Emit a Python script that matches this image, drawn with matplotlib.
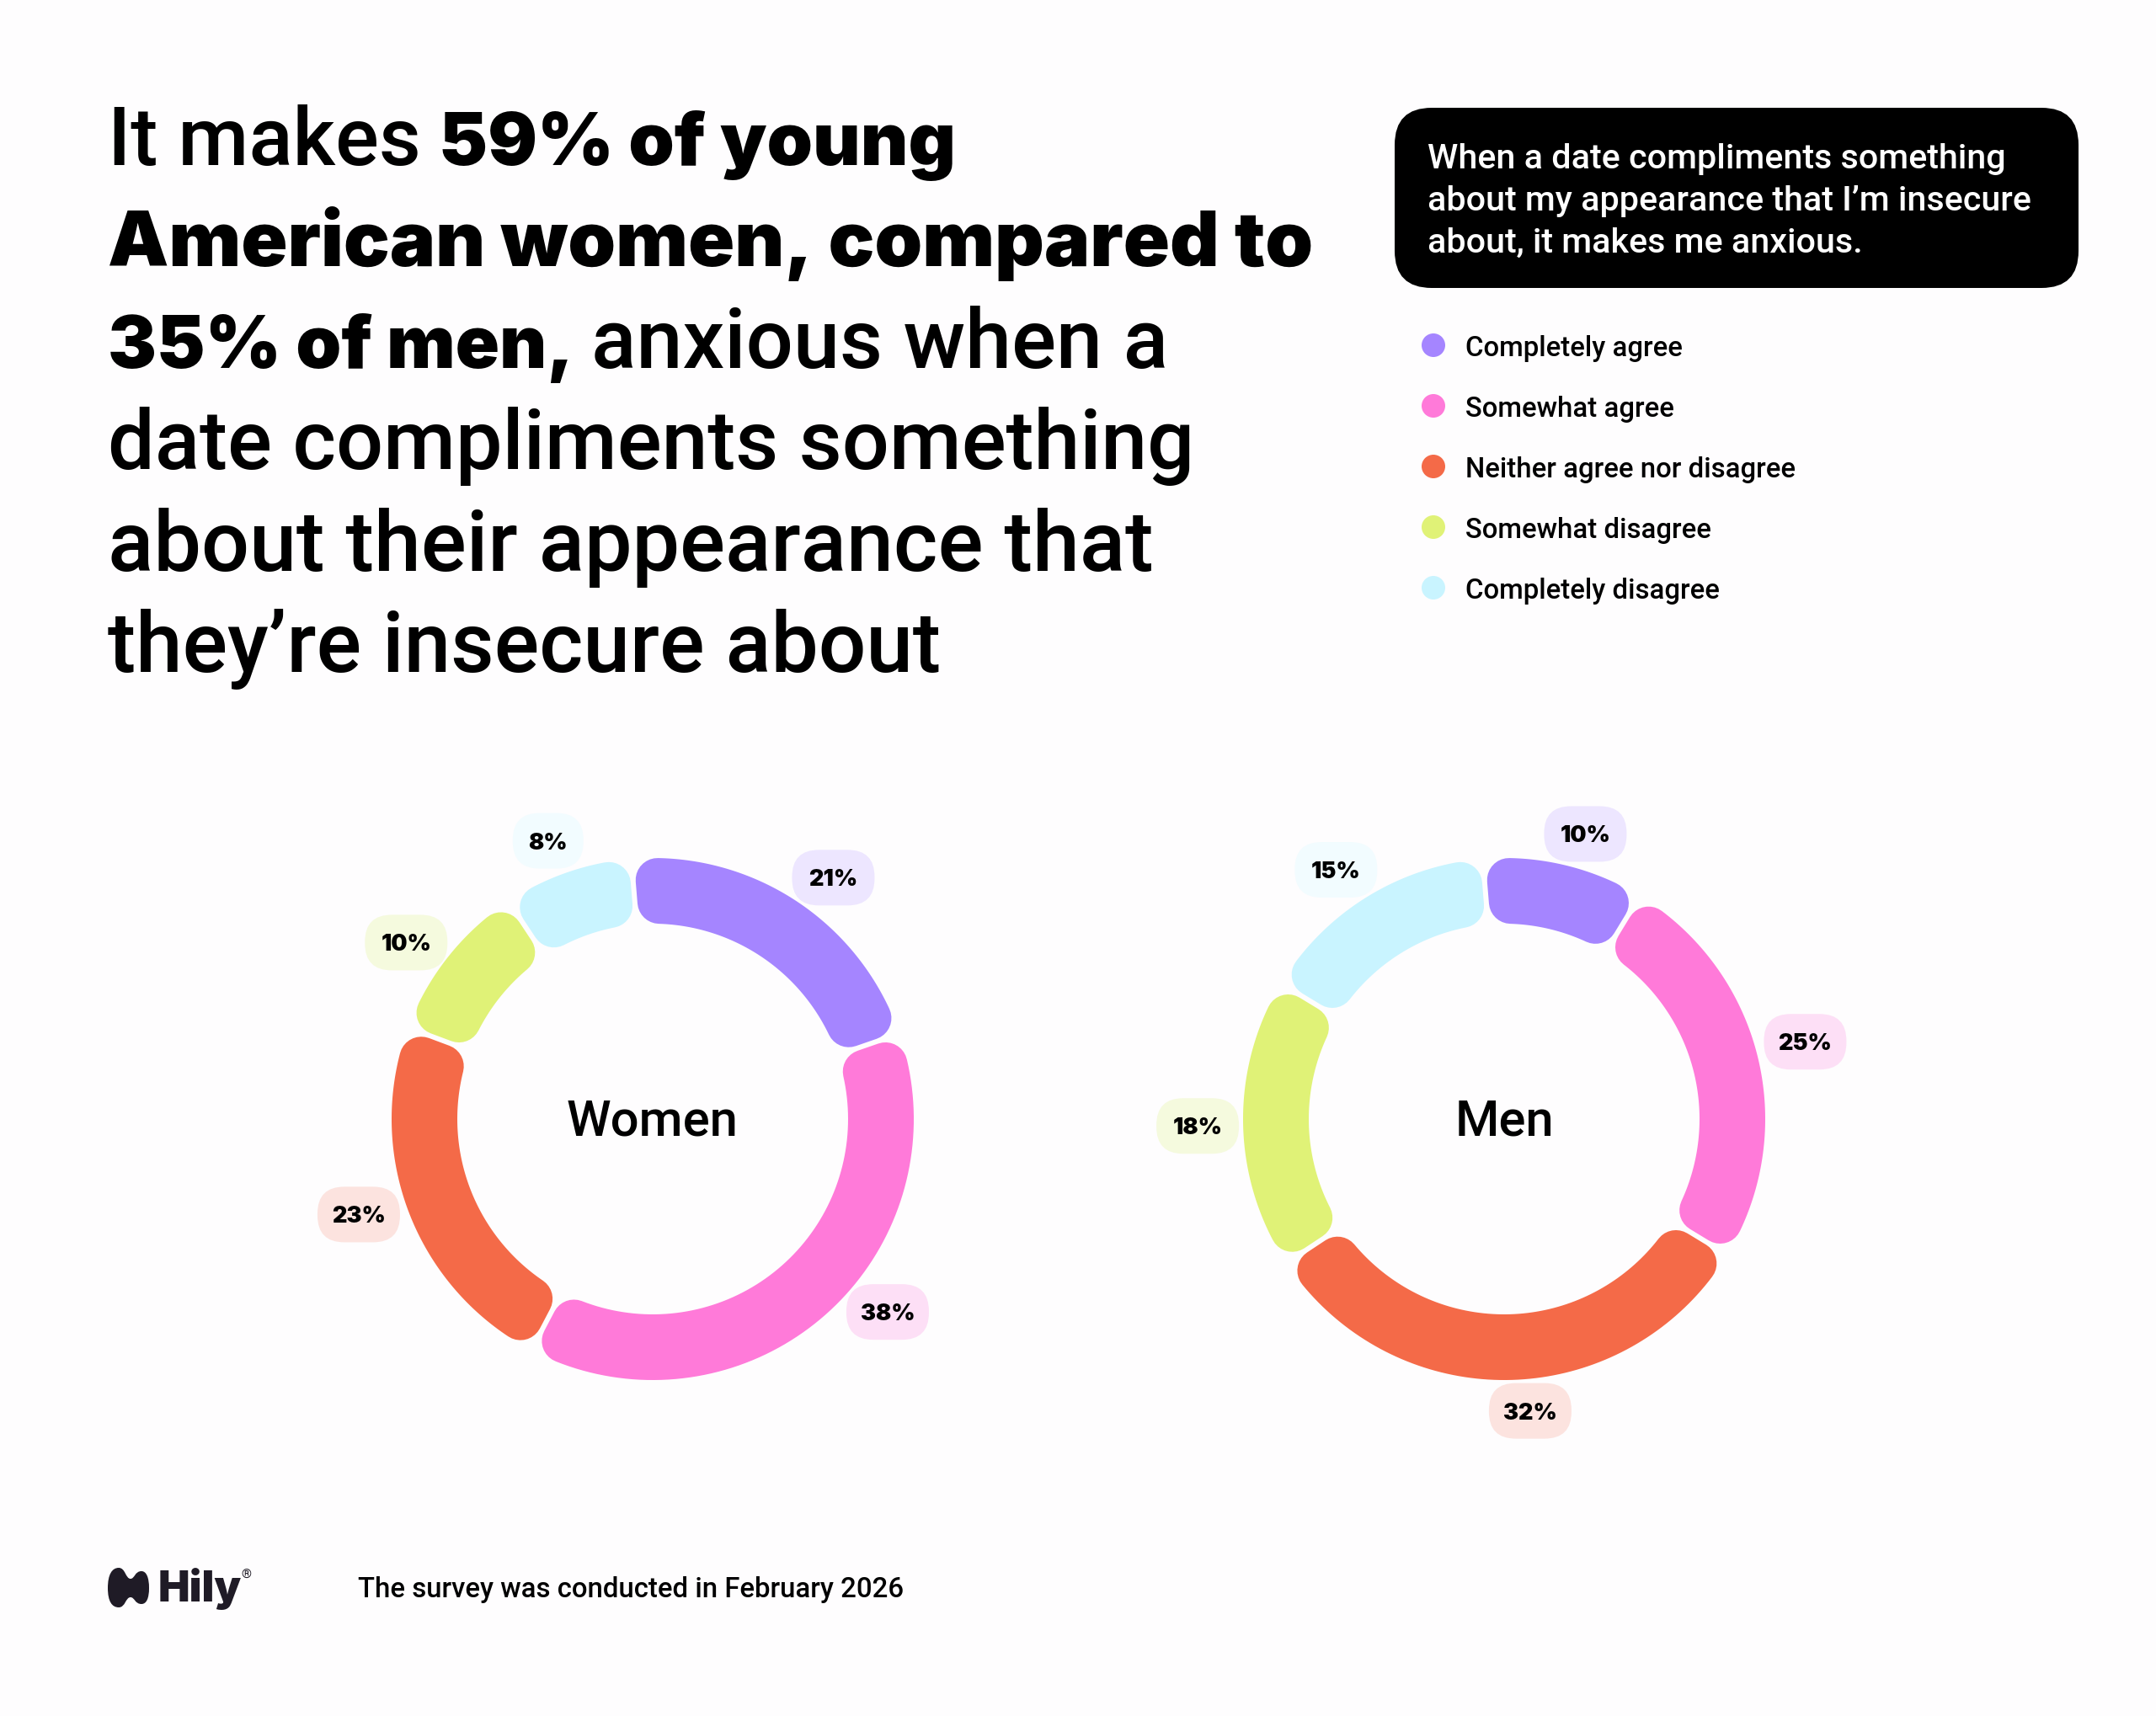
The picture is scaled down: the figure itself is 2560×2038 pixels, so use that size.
import matplotlib
matplotlib.use("Agg")
import matplotlib.pyplot as plt
from matplotlib.patches import Circle, FancyBboxPatch, PathPatch, Polygon
from matplotlib.path import Path
import numpy as np

categories = ["Completely agree", "Somewhat agree", "Neither agree nor disagree",
              "Somewhat disagree", "Completely disagree"]
women = [21, 38, 23, 10, 8]
men = [10, 25, 32, 18, 15]

colors = ["#A585FF", "#FF7AD9", "#F46A48", "#E0F277", "#C9F4FF"]
pill_colors = ["#EDE6FF", "#FDDFF6", "#FCE3DF", "#F5FADE", "#F2FCFF"]

headline = [
    [("It makes", False), ("59% of young", True)],
    [("American women, compared to", True)],
    [("35% of men,", True), ("anxious when a", False)],
    [("date compliments something", False)],
    [("about their appearance that", False)],
    [("they\u2019re insecure about", False)],
]
question = ["When a date compliments something",
            "about my appearance that I\u2019m insecure",
            "about, it makes me anxious."]
footnote = "The survey was conducted in February 2026"

BG = "#FEFDFE"
FONT = "Roboto"
HEAVY = "Inter"
START = -4.7
R_OUT, R_IN = 310, 232
CORNER = 26
GAP = 6

# the fonts here have no tracking control, so font size is tuned per headline line
bold_sizes = [62.8, 65.6, 62.3, 64, 64, 64]
regular_sizes = [69.5, 71, 71.2, 71, 72.4, 71.8]

# small nudges of the % pills, degrees off the slice middle and radius in px
women_pill_shift = [3.7, -9.9, 2.9, -2.9, -1.5]
women_pill_r = [358, 361, 367, 360, 353]
men_pill_shift = [2.6, -0.7, -4, -0.2, -2.3]
men_pill_r = [352, 369, 348, 364, 357]


def polar(cx, cy, r, deg):
    a = np.radians(deg)
    return cx + r * np.sin(a), cy - r * np.cos(a)


def draw_segment(ax, cx, cy, a0, a1, color):
    # inset sector with a fat round-joined edge gives the rounded corners
    r_o = R_OUT - CORNER
    r_i = R_IN + CORNER
    d_o = np.degrees(np.arcsin((CORNER + GAP / 2) / r_o))
    d_i = np.degrees(np.arcsin((CORNER + GAP / 2) / r_i))
    t_o = np.linspace(a0 + d_o, a1 - d_o, 80)
    t_i = np.linspace(a1 - d_i, a0 + d_i, 80)
    xo, yo = polar(cx, cy, r_o, t_o)
    xi, yi = polar(cx, cy, r_i, t_i)
    pts = np.column_stack([np.r_[xo, xi], np.r_[yo, yi]])
    lw = 2 * CORNER * 72 / ax.figure.dpi
    ax.add_patch(Polygon(pts, closed=True, fc=color, ec=color, lw=lw, joinstyle="round"))


def draw_donut(ax, cx, cy, values, name, shifts, radii):
    angle = START
    for i, v in enumerate(values):
        span = v / sum(values) * 360
        draw_segment(ax, cx, cy, angle, angle + span, colors[i])
        px, py = polar(cx, cy, radii[i], angle + span / 2 + shifts[i])
        w = 98 if v >= 10 else 84
        h = 66
        ax.add_patch(FancyBboxPatch((px - w / 2 + 32, py - h / 2 + 32), w - 64, h - 64,
                                    boxstyle="round,pad=32,rounding_size=32",
                                    fc=pill_colors[i], ec="none"))
        ax.text(px, py, f"{v}%", ha="center", va="center_baseline", fontsize=19.5,
                family=HEAVY, weight=900, color="black")
        angle += span
    ax.text(cx, cy - 3, name, ha="center", va="center_baseline", fontsize=43,
            family=FONT, weight=500, color="black")


def draw_runs(ax, x, y, runs, bold_size, regular_size):
    renderer = ax.figure.canvas.get_renderer()
    for text, bold in runs:
        if bold:
            t = ax.text(x, y, text, fontsize=bold_size, family=HEAVY, weight=900, color="black",
                        va="baseline", ha="left")
        else:
            t = ax.text(x, y, text, fontsize=regular_size, family=FONT, weight=500, color="black",
                        va="baseline", ha="left")
        x += t.get_window_extent(renderer).width + 21


def draw_logo(ax):
    verts = [(128, 1886), (128, 1870), (133, 1862), (141, 1862), (149, 1862), (149, 1875), (155, 1875),
             (160, 1875), (160, 1866), (168, 1866), (174, 1866), (177, 1874), (177, 1886),
             (177, 1898), (174, 1905), (168, 1905), (160, 1905), (160, 1897), (155, 1897),
             (149, 1897), (149, 1909), (141, 1909), (133, 1909), (128, 1902), (128, 1886)]
    codes = [Path.MOVETO] + [Path.CURVE4] * 24
    ax.add_patch(PathPatch(Path(verts, codes), fc="#1F1B26", ec="none"))
    ax.text(188, 1902, "Hily", fontsize=36, family=HEAVY, weight=900, color="#1F1B26", va="baseline")
    ax.text(292, 1871, "\u00ae", fontsize=11, family=FONT, color="#1F1B26", va="center", ha="center")


def main():
    fig = plt.figure(figsize=(25.6, 20.38), dpi=100, facecolor=BG)
    ax = fig.add_axes([0, 0, 1, 1])
    ax.set_xlim(0, 2560)
    ax.set_ylim(2038, 0)
    ax.axis("off")

    for i, runs in enumerate(headline):
        draw_runs(ax, 128, 196 + i * 120.4, runs, bold_sizes[i], regular_sizes[i])

    ax.add_patch(FancyBboxPatch((1656 + 44, 128 + 44), 812 - 88, 214 - 88,
                                boxstyle="round,pad=44,rounding_size=44", fc="black", ec="none"))
    for i, line in enumerate(question):
        ax.text(1695, 200 + i * 50, line, fontsize=29.7, family=FONT, weight=500, color="white", va="baseline")

    for i, cat in enumerate(categories):
        y = 410 + i * 72
        ax.add_patch(Circle((1702, y), 14, fc=colors[i], ec="none"))
        ax.text(1740, y, cat, fontsize=23.7, family=FONT, weight=500, color="black", va="center_baseline")

    draw_donut(ax, 775, 1329, women, "Women", women_pill_shift, women_pill_r)
    draw_donut(ax, 1786, 1329, men, "Men", men_pill_shift, men_pill_r)

    draw_logo(ax)
    ax.text(425, 1897, footnote, fontsize=23.7, family=FONT, weight=500, color="black", va="baseline")

    fig.savefig("out.png", dpi=100, facecolor=BG)


if __name__ == "__main__":
    main()
